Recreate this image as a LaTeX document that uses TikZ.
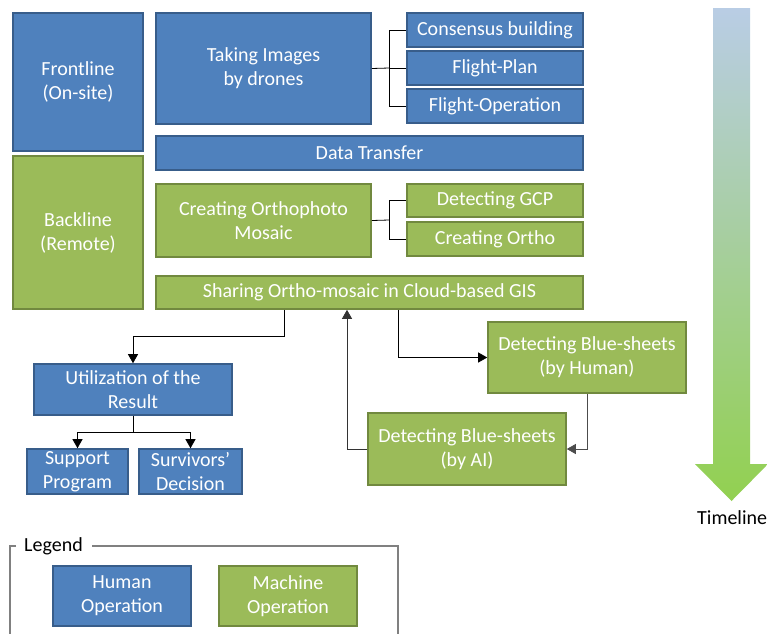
\documentclass[tikz,border=0pt]{standalone}
\usepackage{fontspec}
\setmainfont{Carlito}
\usetikzlibrary{arrows.meta}
\definecolor{humanfill}{HTML}{4F81BD}
\definecolor{humanline}{HTML}{385D8A}
\definecolor{machfill}{HTML}{9BBB59}
\definecolor{machline}{HTML}{71893F}
\definecolor{timetop}{HTML}{B9CDE5}
\definecolor{timebot}{HTML}{92D050}
\begin{document}
\begin{tikzpicture}[x=1pt, y=-1pt,
        box/.style={line width=1.6pt, text=white, align=center, inner sep=0pt,
          font=\fontsize{20}{24}\selectfont},
        human/.style={box, draw=humanline, fill=humanfill},
        mach/.style={box, draw=machline, fill=machfill},
        ln/.style={line width=0.8pt},
        arr/.style={ln, -{Triangle[width=10pt,length=9pt]}}
      ]
      \useasboundingbox (0,0) rectangle (767,633);
      % lanes
      \node[human, minimum width=130pt, minimum height=138pt] (front) at (78,82) {Frontline\\(On-site)};
      \node[mach, minimum width=130pt, minimum height=153pt] (back) at (78,232.5) {Backline\\(Remote)};
      % frontline work
      \node[human, minimum width=215pt, minimum height=111pt] (taking) at (263.5,68.5) {Taking Images\\by drones};
      \node[human, minimum width=176pt, minimum height=34pt] (consensus) at (495,30) {Consensus building};
      \node[human, minimum width=176pt, minimum height=34pt] (fplan) at (495,68) {Flight-Plan};
      \node[human, minimum width=176pt, minimum height=34pt] (fop) at (495,106) {Flight-Operation};
      \node[human, minimum width=427pt, minimum height=34pt] (transfer) at (369.5,153) {Data Transfer};
      % backline work
      \node[mach, minimum width=215pt, minimum height=73pt] (ortho) at (263.5,220.5) {Creating Orthophoto\\Mosaic};
      \node[mach, minimum width=176pt, minimum height=33pt] (gcp) at (495,200.5) {Detecting GCP};
      \node[mach, minimum width=176pt, minimum height=34pt] (cortho) at (495,239) {Creating Ortho};
      \node[mach, minimum width=427pt, minimum height=33pt] (sharing) at (369.5,292.5) {Sharing Ortho-mosaic in Cloud-based GIS};
      \node[mach, minimum width=198pt, minimum height=71pt] (dhuman) at (587,357.5) {Detecting Blue-sheets\\(by Human)};
      \node[mach, minimum width=198pt, minimum height=72pt] (dai) at (467,449) {Detecting Blue-sheets\\(by AI)};
      % result
      \node[human, minimum width=198pt, minimum height=51pt] (util) at (133,389.5) {Utilization of the\\Result};
      \node[human, minimum width=101pt, minimum height=45pt] (support) at (77.5,471.5) {Support\\Program};
      \node[human, minimum width=103pt, minimum height=45pt] (survivors) at (190.5,471.5) {Survivors’\\Decision};
      % brackets
      \coordinate (bus1) at (389,68);
      \coordinate (bus2) at (389,220);
      \draw[ln] (taking.east) -- (bus1);
      \foreach \n in {consensus,fplan,fop} {
        \draw[ln] (\n.west) -| (bus1);
      }
      \draw[ln] (ortho.east) -- (bus2);
      \foreach \n in {gcp,cortho} {
        \draw[ln] (\n.west) -| (bus2);
      }
      % flow
      \draw[arr] ([xshift=-85.5pt]sharing.south) -- ++(0,27) -| (util.north);
      \draw[arr] ([xshift=28.5pt]sharing.south) |- (dhuman.west);
      \draw[arr, black!70] (dhuman.south) |- (dai.east);
      \draw[arr, black!80] (dai.west) -| ([xshift=-22.5pt]sharing.south);
      \foreach \n in {support,survivors} {
        \draw[arr] (util.south) -- ++(0,17) -| (\n.north);
      }
      % timeline
      \shade[top color=timetop, bottom color=timebot]
        (713,8) -- (750,8) -- (750,464) -- (768,464) -- (731.5,501)
        -- (695,464) -- (713,464) -- cycle;
      \node[anchor=west, inner sep=0pt, font=\fontsize{20}{24}\selectfont] (tl) at (697,518) {Timeline};
      % legend
      \draw[black!50, line width=1.4pt] (16,546) -- (10,546) -- (10,640);
      \draw[black!50, line width=1.4pt] (92,546) -- (398,546) -- (398,640);
      \node[anchor=west, inner sep=0pt, font=\fontsize{20}{24}\selectfont] (leg) at (24,546) {Legend};
      \node[human, minimum width=138pt, minimum height=60pt] (lhuman) at (122,596) {Human\\Operation};
      \node[mach, minimum width=138pt, minimum height=60pt] (lmach) at (288,596) {Machine\\Operation};
    \end{tikzpicture}
\end{document}
